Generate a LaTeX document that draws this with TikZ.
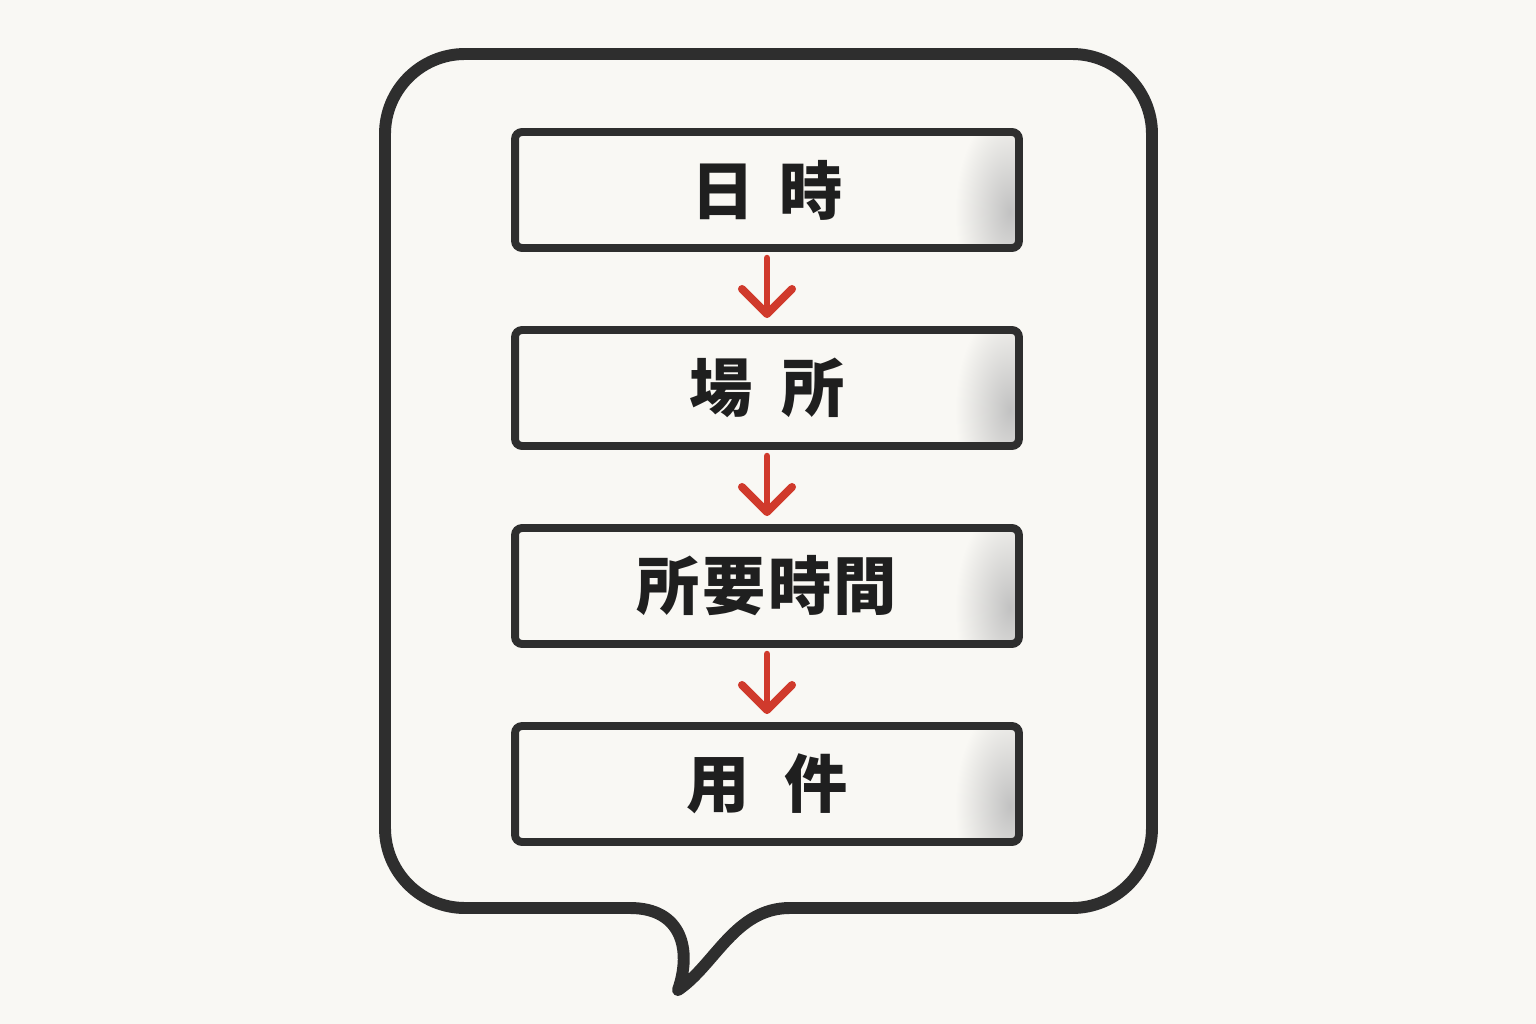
\documentclass[tikz,border=0pt]{standalone}
\usepackage{fontspec}
\newfontfamily\jpfont{Noto Sans CJK JP}
\usetikzlibrary{arrows.meta}
\definecolor{bg}{HTML}{F9F8F4}
\definecolor{ink}{HTML}{2E2E2E}
\definecolor{redink}{HTML}{D03A2C}
\begin{document}
\begin{tikzpicture}[x=0.02cm,y=-0.02cm,
  stepbox/.style={draw=ink, line width=4.5pt, rounded corners=4pt, minimum width=10.08cm, minimum height=2.32cm, inner sep=0pt, font=\jpfont\bfseries\fontsize{36pt}{36pt}\selectfont, text=black!88},
  flow/.style={draw=redink, line width=3.6pt, line cap=round, shorten <=0.12cm, shorten >=0.16cm, -{Straight Barb[length=0.5cm,width=1.0cm,line width=4.6pt,round]}},
  bubble/.style={draw=ink, line width=6.8pt, line join=round, line cap=round}]
\fill[bg] (0,0) rectangle (1536,1024);
\useasboundingbox (0,0) rectangle (1536,1024);
% speech bubble
\draw[bubble] (790,908) .. controls (735,908) and (715,965) .. (678,990)
  .. controls (692,950) and (682,908) .. (630,908)
  [rounded corners=1.6cm] -- (385,908) -- (385,54) -- (1152,54) -- (1152,908) -- (790,908);
% smudges
\foreach \y in {190,388,586,784}{
  \begin{scope}
    \clip (519,\y-54) rectangle (1015,\y+54);
    \shade[inner color=black!24, outer color=bg] (1010,\y+22) ellipse [x radius=55, y radius=105];
  \end{scope}
}
% boxes
\node[stepbox] (b1) at (767,190) {日\hspace{0.4em}時};
\node[stepbox] (b2) at (767,388) {場\hspace{0.45em}所};
\node[stepbox] (b3) at (767,586) {所\hspace{0.04em}要\hspace{0.04em}時\hspace{0.04em}間\hspace{0.2em}};
\node[stepbox] (b4) at (767,784) {用\hspace{0.55em}件};
% arrows
\draw[flow] (b1.south) -- (b2.north);
\draw[flow] (b2.south) -- (b3.north);
\draw[flow] (b3.south) -- (b4.north);
\end{tikzpicture}
\end{document}
